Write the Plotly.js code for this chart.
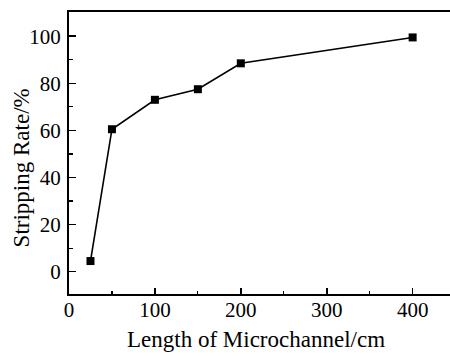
<!DOCTYPE html>
<html><head><meta charset="utf-8">
<script src="https://cdn.plot.ly/plotly-3.0.1.min.js"></script>
<style>html,body{margin:0;padding:0;background:#fff}</style>
</head><body>
<div id="chart" style="width:450px;height:356px"></div>
<script>
const lengthCm = [25, 50, 100, 150, 200, 400];
const strippingRate = [4.5, 60.5, 73, 77.5, 88.5, 99.5];
const xTicks = [0, 100, 200, 300, 400];
const yTicks = [0, 20, 40, 60, 80, 100];
const xTitle = 'Length of Microchannel/cm';
const yTitle = 'Stripping Rate/%';

const fam = 'Liberation Serif, Times New Roman, serif';
Plotly.newPlot('chart', [{
  x: lengthCm, y: strippingRate, type: 'scatter', mode: 'lines+markers',
  line: {color: '#000', width: 1.6},
  marker: {symbol: 'square', size: 8, color: '#000'}
}], {
  width: 450, height: 356,
  margin: {l: 69, r: 0, t: 12, b: 62},
  paper_bgcolor: '#fff', plot_bgcolor: '#fff',
  showlegend: false,
  xaxis: {
    range: [0, 443.5], tickvals: xTicks, ticktext: xTicks.map(String),
    showgrid: false, zeroline: false, showline: true, linecolor: '#000', linewidth: 2,
    mirror: true, ticks: 'inside', ticklen: 6, tickwidth: 1.6, tickcolor: '#000',
    minor: {dtick: 50, tick0: 0, ticks: 'inside', ticklen: 3, tickwidth: 1.2, tickcolor: '#000'},
    tickfont: {family: fam, size: 21, color: '#000'},
    ticklabelstandoff: -4
  },
  yaxis: {
    range: [-9.5, 110.3], tickvals: yTicks, ticktext: yTicks.map(String),
    showgrid: false, zeroline: false, showline: true, linecolor: '#000', linewidth: 2,
    mirror: false, ticks: 'inside', ticklen: 7, tickwidth: 1.6, tickcolor: '#000',
    minor: {dtick: 10, tick0: 0, ticks: 'inside', ticklen: 4, tickwidth: 1.2, tickcolor: '#000'},
    tickfont: {family: fam, size: 21, color: '#000'},
    ticklabelstandoff: 2
  },
  annotations: [
    {text: xTitle, xref: 'paper', yref: 'paper', x: 0.491, y: -0.162,
     xanchor: 'center', yanchor: 'middle', showarrow: false,
     font: {family: fam, size: 23, color: '#000'}},
    {text: yTitle, xref: 'paper', yref: 'paper', x: -0.126, y: 0.449, textangle: -90,
     xanchor: 'center', yanchor: 'middle', showarrow: false,
     font: {family: fam, size: 23, color: '#000'}}
  ]
}, {displayModeBar: false, staticPlot: true});
</script>
</body></html>
